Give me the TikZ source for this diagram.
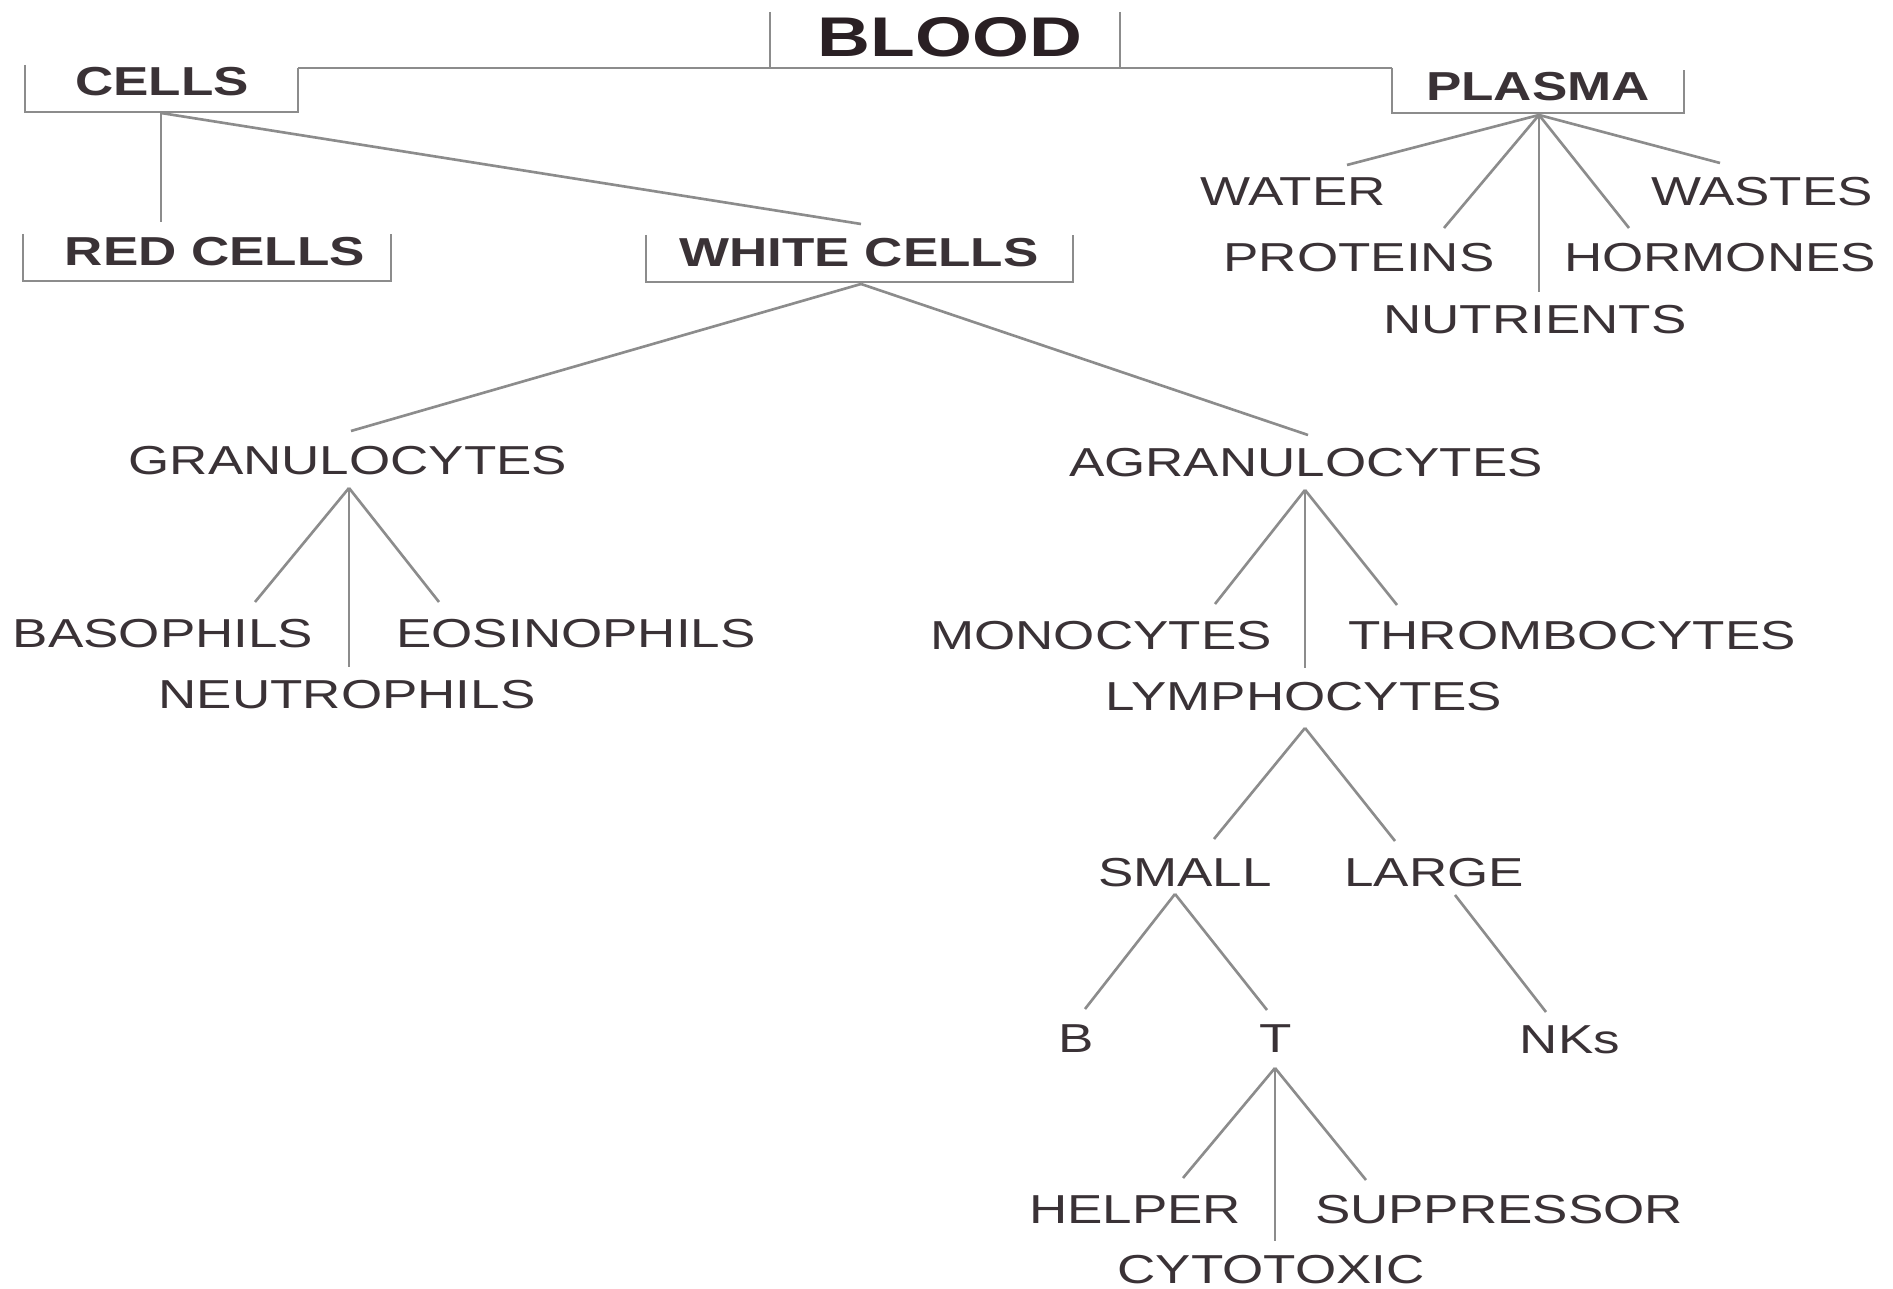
\documentclass[tikz,border=0pt]{standalone}
\usepackage{graphicx}
\usepackage{fontspec}
\setmainfont{Liberation Sans}
\definecolor{txt}{HTML}{3A3236}
\definecolor{txtd}{HTML}{2A2024}
\definecolor{ln}{HTML}{8C8C8C}
\newcommand{\wide}[1]{\scalebox{1.31}[1]{#1}}
\tikzset{
  lbl/.style={inner sep=0pt, text=txt, font=\fontsize{11.5pt}{12pt}\selectfont},
  blbl/.style={inner sep=0pt, text=txt, font=\fontsize{11.5pt}{12pt}\selectfont\bfseries},
  toplbl/.style={inner sep=0pt, text=txtd, font=\fontsize{15.9pt}{17pt}\selectfont\bfseries},
  link/.style={draw=ln, line width=0.75pt},
}
\begin{document}
\begin{tikzpicture}[x=0.01cm, y=-0.01cm]
\useasboundingbox[fill=white] (0,0) rectangle (1893,1289);

% ---- labels ----
\node[toplbl] (blood) at (950,37) {\wide{BLOOD}};
\node[blbl] (cells) at (162,82) {\wide{CELLS}};
\node[blbl] (plasma) at (1538,87) {\wide{PLASMA}};
\node[blbl] (red) at (215,252) {\wide{RED CELLS}};
\node[blbl] (white) at (859,253) {\wide{WHITE CELLS}};

\node[lbl] (water) at (1293,192) {\wide{WATER}};
\node[lbl] (wastes) at (1762,192) {\wide{WASTES}};
\node[lbl] (proteins) at (1359,258) {\wide{PROTEINS}};
\node[lbl] (hormones) at (1720,258) {\wide{HORMONES}};
\node[lbl] (nutrients) at (1535,320) {\wide{NUTRIENTS}};

\node[lbl] (gran) at (348,461) {\wide{GRANULOCYTES}};
\node[lbl] (agran) at (1306,463) {\wide{AGRANULOCYTES}};
\node[lbl] (baso) at (163,634) {\wide{BASOPHILS}};
\node[lbl] (eos) at (576,634) {\wide{EOSINOPHILS}};
\node[lbl] (neut) at (347,695) {\wide{NEUTROPHILS}};
\node[lbl] (mono) at (1101,636) {\wide{MONOCYTES}};
\node[lbl] (thromb) at (1572,636) {\wide{THROMBOCYTES}};
\node[lbl] (lymph) at (1304,697) {\wide{LYMPHOCYTES}};
\node[lbl] (small) at (1185,873) {\wide{SMALL}};
\node[lbl] (large) at (1434,873) {\wide{LARGE}};
\node[lbl] (bcell) at (1076,1039) {\wide{B}};
\node[lbl] (tcell) at (1276,1039) {\wide{T}};
\node[lbl] (nks) at (1570,1040) {\wide{NKs}};
\node[lbl] (helper) at (1135,1210) {\wide{HELPER}};
\node[lbl] (supp) at (1499,1210) {\wide{SUPPRESSOR}};
\node[lbl] (cyto) at (1271,1270) {\wide{CYTOTOXIC}};

% ---- connector end points ----
\coordinate (bloodL) at (770,12);
\coordinate (bloodR) at (1120,12);
\coordinate (busL) at (298,68);
\coordinate (busR) at (1392,68);
\coordinate (bloodLb) at (770,68);
\coordinate (bloodRb) at (1120,68);
\coordinate (cellsB) at (161,113);
\coordinate (redT) at (161,222);
\coordinate (whiteT) at (861,224);
\coordinate (whiteB) at (861,284);
\coordinate (granT) at (351,431);
\coordinate (agranT) at (1308,435);
\coordinate (granB) at (349,488);
\coordinate (basoT) at (255,602);
\coordinate (neutT) at (349,667);
\coordinate (eosT) at (439,602);
\coordinate (agranB) at (1305,490);
\coordinate (monoT) at (1215,604);
\coordinate (lymphT) at (1305,668);
\coordinate (thrombT) at (1397,605);
\coordinate (lymphB) at (1305,728);
\coordinate (smallT) at (1214,839);
\coordinate (largeT) at (1395,841);
\coordinate (smallB) at (1175,894);
\coordinate (bT) at (1085,1009);
\coordinate (tT) at (1267,1010);
\coordinate (largeB) at (1455,895);
\coordinate (nksT) at (1546,1012);
\coordinate (tB) at (1275,1068);
\coordinate (helperT) at (1183,1178);
\coordinate (cytoT) at (1275,1241);
\coordinate (suppT) at (1366,1180);
\coordinate (plasmaB) at (1539,115);
\coordinate (waterT) at (1347,165);
\coordinate (protT) at (1444,228);
\coordinate (nutT) at (1539,292);
\coordinate (hormT) at (1629,228);
\coordinate (wastT) at (1720,163);

% ---- brackets ----
\draw[link] (busL) -- (busR);
\draw[link] (bloodL) -- (bloodLb);
\draw[link] (bloodR) -- (bloodRb);
\draw[link] (25,65) -- (25,112) -- (298,112) -- (busL);
\draw[link] (busR) -- (1392,113) -- (1684,113) -- (1684,70);
\draw[link] (23,234) -- (23,281) -- (391,281) -- (391,234);
\draw[link] (646,235) -- (646,282) -- (1073,282) -- (1073,235);

% ---- tree connectors ----
\draw[link] (cellsB) -- (redT);
\draw[link] (cellsB) -- (whiteT);
\draw[link] (whiteB) -- (granT);
\draw[link] (whiteB) -- (agranT);
\draw[link] (granB) -- (basoT);
\draw[link] (granB) -- (neutT);
\draw[link] (granB) -- (eosT);
\draw[link] (agranB) -- (monoT);
\draw[link] (agranB) -- (lymphT);
\draw[link] (agranB) -- (thrombT);
\draw[link] (lymphB) -- (smallT);
\draw[link] (lymphB) -- (largeT);
\draw[link] (smallB) -- (bT);
\draw[link] (smallB) -- (tT);
\draw[link] (largeB) -- (nksT);
\draw[link] (tB) -- (helperT);
\draw[link] (tB) -- (cytoT);
\draw[link] (tB) -- (suppT);
\draw[link] (plasmaB) -- (waterT);
\draw[link] (plasmaB) -- (protT);
\draw[link] (plasmaB) -- (nutT);
\draw[link] (plasmaB) -- (hormT);
\draw[link] (plasmaB) -- (wastT);
\end{tikzpicture}
\end{document}
